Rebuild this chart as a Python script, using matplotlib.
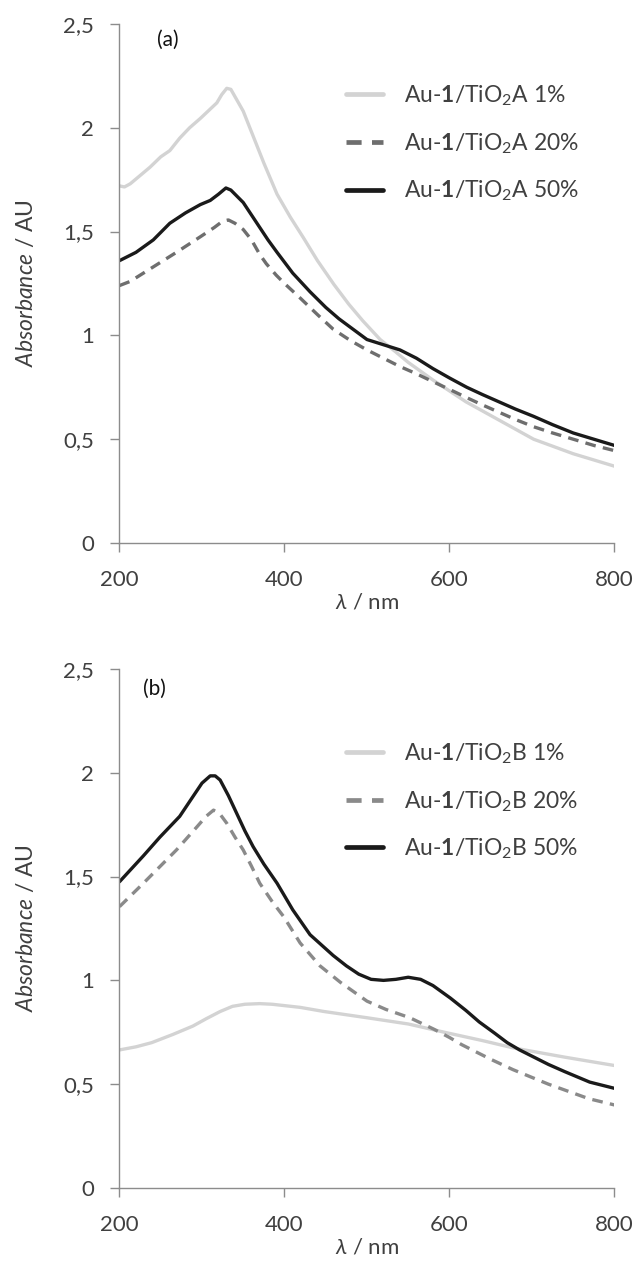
import matplotlib
matplotlib.use("Agg")
import matplotlib.pyplot as plt

# ---------------- data ----------------
# Panel (a): TiO2 A
a_1_x = [200, 206, 213, 225, 237, 250, 261, 273, 285, 298, 310, 318, 324, 330, 335, 340, 350, 362, 375, 391, 407, 423, 440, 460, 478, 495, 516, 535, 550, 580, 620, 661, 702, 750, 800]
a_1_y = [1.72, 1.715, 1.73, 1.77, 1.81, 1.86, 1.89, 1.95, 2.00, 2.045, 2.09, 2.12, 2.16, 2.19, 2.185, 2.15, 2.08, 1.96, 1.83, 1.68, 1.57, 1.47, 1.36, 1.245, 1.15, 1.07, 0.98, 0.92, 0.87, 0.785, 0.68, 0.59, 0.50, 0.43, 0.37]

a_20_x = [200, 213, 241, 269, 298, 315, 325, 332, 340, 350, 360, 370, 378, 390, 400, 419, 440, 459, 480, 500, 520, 540, 560, 580, 600, 621, 640, 660, 680, 702, 725, 750, 775, 800]
a_20_y = [1.24, 1.26, 1.33, 1.40, 1.475, 1.52, 1.55, 1.556, 1.54, 1.51, 1.46, 1.39, 1.345, 1.29, 1.25, 1.18, 1.10, 1.03, 0.975, 0.93, 0.89, 0.85, 0.815, 0.777, 0.74, 0.70, 0.665, 0.63, 0.595, 0.56, 0.53, 0.50, 0.47, 0.445]

a_50_x = [200, 220, 241, 261, 280, 298, 310, 320, 329, 335, 340, 350, 360, 370, 380, 391, 410, 431, 450, 466, 483, 500, 520, 540, 560, 580, 600, 621, 640, 660, 680, 702, 725, 750, 775, 800]
a_50_y = [1.36, 1.40, 1.46, 1.54, 1.59, 1.63, 1.65, 1.68, 1.71, 1.70, 1.68, 1.64, 1.58, 1.52, 1.46, 1.40, 1.30, 1.21, 1.135, 1.08, 1.03, 0.98, 0.955, 0.93, 0.89, 0.84, 0.795, 0.75, 0.715, 0.68, 0.645, 0.61, 0.57, 0.53, 0.50, 0.47]

# Panel (b): TiO2 B
b_1_x = [200, 220, 239, 265, 289, 305, 322, 337, 352, 370, 385, 419, 448, 500, 550, 594, 640, 677, 740, 800]
b_1_y = [0.665, 0.68, 0.70, 0.74, 0.78, 0.815, 0.85, 0.875, 0.885, 0.888, 0.885, 0.87, 0.85, 0.82, 0.79, 0.75, 0.71, 0.675, 0.63, 0.59]

b_20_x = [200, 229, 269, 294, 305, 314, 322, 330, 340, 350, 360, 370, 385, 399, 419, 443, 468, 500, 523, 552, 581, 600, 615, 650, 677, 720, 769, 800]
b_20_y = [1.355, 1.468, 1.628, 1.74, 1.79, 1.82, 1.80, 1.757, 1.69, 1.628, 1.55, 1.468, 1.38, 1.307, 1.18, 1.07, 0.99, 0.90, 0.86, 0.82, 0.765, 0.725, 0.69, 0.62, 0.57, 0.50, 0.43, 0.40]

b_50_x = [200, 229, 249, 273, 289, 300, 310, 316, 322, 332, 342, 352, 362, 375, 391, 410, 431, 459, 475, 490, 505, 520, 535, 550, 565, 580, 601, 620, 636, 655, 670, 685, 700, 720, 740, 770, 800]
b_50_y = [1.475, 1.60, 1.69, 1.79, 1.885, 1.95, 1.985, 1.985, 1.965, 1.89, 1.805, 1.72, 1.644, 1.56, 1.468, 1.34, 1.22, 1.12, 1.07, 1.03, 1.005, 1.00, 1.005, 1.015, 1.005, 0.975, 0.915, 0.855, 0.80, 0.745, 0.70, 0.665, 0.635, 0.595, 0.56, 0.51, 0.48]

x_ticks = [200, 400, 600, 800]
y_ticks = [0, 0.5, 1, 1.5, 2, 2.5]
y_tick_labels = ["0", "0,5", "1", "1,5", "2", "2,5"]

labels_a = [r"Au-$\mathbf{1}$/TiO$_2$A 1%", r"Au-$\mathbf{1}$/TiO$_2$A 20%", r"Au-$\mathbf{1}$/TiO$_2$A 50%"]
labels_b = [r"Au-$\mathbf{1}$/TiO$_2$B 1%", r"Au-$\mathbf{1}$/TiO$_2$B 20%", r"Au-$\mathbf{1}$/TiO$_2$B 50%"]

# ---------------- style ----------------
plt.rcParams['font.family'] = ['Lato', 'DejaVu Sans']
plt.rcParams['mathtext.fontset'] = 'custom'
plt.rcParams['mathtext.rm'] = 'Lato'
plt.rcParams['mathtext.it'] = 'Lato:italic'
plt.rcParams['mathtext.bf'] = 'Lato:bold'

TXT = '#404040'
AX = '#8c8c8c'
C1 = '#d3d3d3'
C20a = '#6e6e6e'
C20b = '#8a8a8a'
C50 = '#1a1a1a'
FS = 16
LFS = 16.5

fig = plt.figure(figsize=(6.4, 12.81), dpi=100)
ax_a = fig.add_axes([0.1867, 0.5761, 0.7734, 0.4052])
ax_b = fig.add_axes([0.1867, 0.0726, 0.7734, 0.4052])


def draw(ax, d1, d20, d50, labels, c20, letter, lx, ly, legy):
    ax.plot(d1[0], d1[1], color=C1, lw=2.4, label=labels[0], solid_capstyle='round', solid_joinstyle='round')
    ax.plot(d20[0], d20[1], color=c20, lw=2.4, ls=(0, (3.2, 2.2)), label=labels[1])
    ax.plot(d50[0], d50[1], color=C50, lw=2.4, label=labels[2], solid_capstyle='round', solid_joinstyle='round')
    ax.set_xlim(200, 800)
    ax.set_ylim(0, 2.5)
    ax.set_xticks(x_ticks)
    ax.set_xticklabels([str(v) for v in x_ticks])
    ax.set_yticks(y_ticks)
    ax.set_yticklabels(y_tick_labels)
    for s in ['top', 'right']:
        ax.spines[s].set_visible(False)
    for s in ['left', 'bottom']:
        ax.spines[s].set_color(AX)
        ax.spines[s].set_linewidth(1.0)
    ax.tick_params(axis='both', direction='out', length=6.5, width=1.0, color=AX,
                   labelsize=FS, labelcolor=TXT)
    ax.tick_params(axis='x', pad=13)
    ax.tick_params(axis='y', pad=12)
    ax.set_xlabel(r"$\mathit{\lambda}$ / nm", fontsize=FS, color=TXT, labelpad=2)
    ax.set_ylabel(r"$\mathit{Absorbance}$ / AU", fontsize=16.5, color=TXT, labelpad=19)
    ax.text(lx, ly, letter, transform=ax.transAxes, fontsize=15, color='#111111',
            ha='center', va='center')
    leg = ax.legend(loc='upper left', bbox_to_anchor=(0.415, legy), frameon=False,
                    fontsize=LFS, handlelength=1.65, handletextpad=0.9, labelspacing=1.0)
    for t in leg.get_texts():
        t.set_color(TXT)
    for ln in leg.get_lines():
        ln.set_linewidth(3.4)


draw(ax_a, (a_1_x, a_1_y), (a_20_x, a_20_y), (a_50_x, a_50_y), labels_a, C20a, "(a)", 0.098, 0.969, 0.925)
draw(ax_b, (b_1_x, b_1_y), (b_20_x, b_20_y), (b_50_x, b_50_y), labels_b, C20b, "(b)", 0.07, 0.961, 0.90)

fig.savefig("out.png", dpi=100)
